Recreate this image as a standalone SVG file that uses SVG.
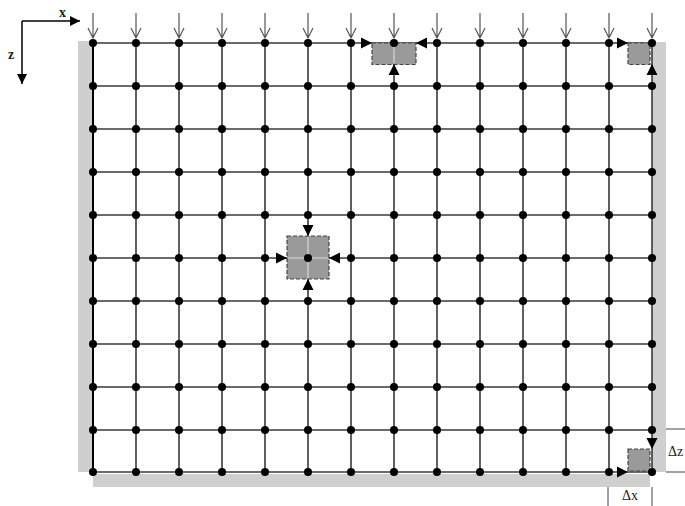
<svg xmlns="http://www.w3.org/2000/svg" width="685" height="506" viewBox="0 0 685 506">
<defs>
<style>
.strip{fill:#cfcfcf}
.gl{stroke:#3a3a3a;stroke-width:1.6;fill:none}
.dot{fill:#000}
.inarrow{stroke:#555;stroke-width:1.2;fill:none}
.cell{fill:#9a9a9a;stroke:#444;stroke-width:1.2;stroke-dasharray:4 2}
.inner{stroke:#d8d8d8;stroke-width:1.2}
.tri{fill:#000}
.lbl{font-family:"Liberation Serif",serif;font-size:14px;fill:#222}
.thin{stroke:#444;stroke-width:1;fill:none}
</style>
<marker id="ah" viewBox="0 0 10 10" refX="10" refY="5" markerWidth="10" markerHeight="10" markerUnits="userSpaceOnUse" orient="auto"><path d="M0,0 L10,5 L0,10 z" fill="#000"/></marker>
<g id="va"><path d="M0,-25 V0 M-5,-10 L0,0 L5,-10" class="inarrow"/></g>
</defs>
<rect width="685" height="506" fill="#fff"/>
<g id="strips">
<rect class="strip" x="78" y="41" width="15" height="431"/>
<rect class="strip" x="652" y="42" width="14" height="430"/>
<rect class="strip" x="93" y="474" width="557" height="13"/>
</g>
<g id="axes">
<path d="M22,21 H80" stroke="#000" stroke-width="1.5" marker-end="url(#ah)"/>
<path d="M22,21 V84" stroke="#000" stroke-width="1.5" marker-end="url(#ah)"/>
<text class="lbl" x="59" y="17" font-weight="bold" font-size="12">x</text>
<text class="lbl" x="8" y="59" font-weight="bold" font-size="12">z</text>
</g>
<g id="connectors">
<path class="gl" d="M93,43H652M93,86H652M93,129H652M93,172H652M93,215H652M93,258H652M93,301H652M93,344H652M93,387H652M93,430H652M93,472H652"/>
<path class="gl" d="M136,43V472M179,43V472M222,43V472M265,43V472M308,43V472M351,43V472M394,43V472M437,43V472M480,43V472M523,43V472M566,43V472M609,43V472M652,43V472"/>
<path d="M93,43V472" stroke="#000" stroke-width="2"/>
</g>
<g id="inflow">
<use href="#va" x="93" y="38"/><use href="#va" x="136" y="38"/><use href="#va" x="179" y="38"/><use href="#va" x="222" y="38"/><use href="#va" x="265" y="38"/><use href="#va" x="308" y="38"/><use href="#va" x="351" y="38"/><use href="#va" x="394" y="38"/><use href="#va" x="437" y="38"/><use href="#va" x="480" y="38"/><use href="#va" x="523" y="38"/><use href="#va" x="566" y="38"/><use href="#va" x="609" y="38"/><use href="#va" x="652" y="38"/>
</g>
<g id="cv-top">
<rect class="cell" x="372" y="43" width="44" height="21.5"/>
<path class="inner" d="M394,44V63"/>
<path class="tri" d="M361,37.5 L372,43 L361,48.5z M427,37.5 L416,43 L427,48.5z M388.5,75 L394,64 L399.5,75z"/>
</g>
<g id="cv-corner-top">
<rect class="cell" x="628" y="43" width="22" height="21.5"/>
<path class="tri" d="M617,37.5 L628,43 L617,48.5z M646.5,75 L652,64 L657.5,75z"/>
</g>
<g id="cv-center">
<rect class="cell" x="287" y="236" width="42" height="43"/>
<path class="inner" d="M288,258H328M308,237V278"/>
<path class="tri" d="M302.5,225 L308,236 L313.5,225z M276,252.5 L287,258 L276,263.5z M340,252.5 L329,258 L340,263.5z M302.5,290 L308,279 L313.5,290z"/>
</g>
<g id="cv-corner-bottom">
<rect class="cell" x="628" y="449" width="22" height="22"/>
<path class="tri" d="M646.5,438 L652,449 L657.5,438z M617,466.5 L628,472 L617,477.5z"/>
</g>
<g id="nodes" class="dot">
<g id="r0"><circle cx="93" cy="43" r="4"/><circle cx="136" cy="43" r="4"/><circle cx="179" cy="43" r="4"/><circle cx="222" cy="43" r="4"/><circle cx="265" cy="43" r="4"/><circle cx="308" cy="43" r="4"/><circle cx="351" cy="43" r="4"/><circle cx="394" cy="43" r="4"/><circle cx="437" cy="43" r="4"/><circle cx="480" cy="43" r="4"/><circle cx="523" cy="43" r="4"/><circle cx="566" cy="43" r="4"/><circle cx="609" cy="43" r="4"/><circle cx="652" cy="43" r="4"/></g>
<use href="#r0" y="43"/><use href="#r0" y="86"/><use href="#r0" y="129"/><use href="#r0" y="172"/><use href="#r0" y="215"/><use href="#r0" y="258"/><use href="#r0" y="301"/><use href="#r0" y="344"/><use href="#r0" y="387"/><use href="#r0" y="429"/>
</g>
<g id="dims">
<path class="thin" d="M666,429H685M666,472H685M608,487V506M652,487V506"/>
<text class="lbl" x="668" y="456" font-size="13">Δz</text>
<text class="lbl" x="622" y="500">Δx</text>
</g>
</svg>
